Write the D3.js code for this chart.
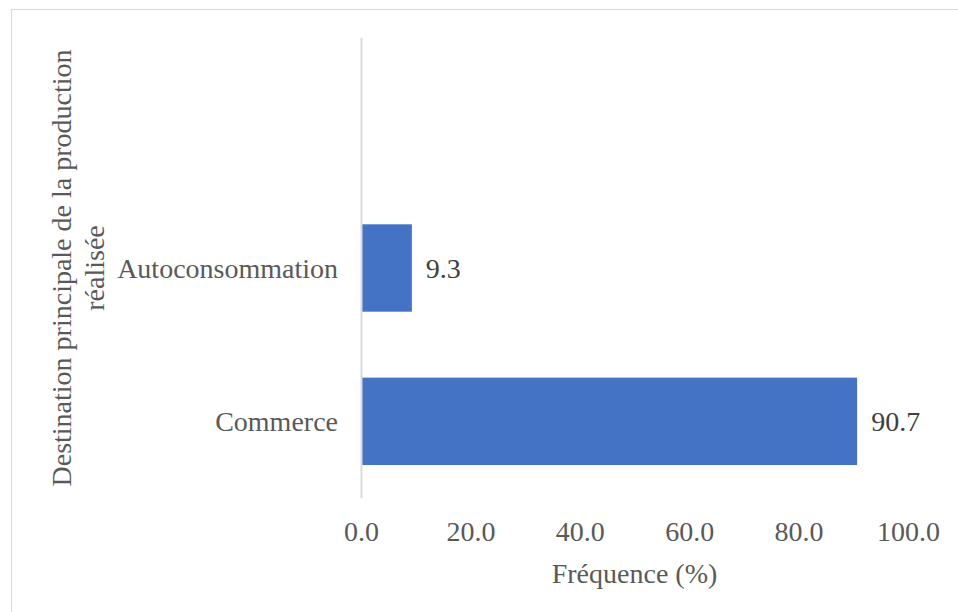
<!DOCTYPE html>
<html>
<head>
<meta charset="utf-8">
<script src="https://cdn.jsdelivr.net/npm/d3@7"></script>
<style>
  body { margin: 0; background: #fff; }
</style>
</head>
<body>
<div id="chart"></div>
<script>
var svgWidth = 958;
var svgHeight = 612;
var serif = "Liberation Serif";
var fontSize = "28px";

// data (top slot of the category axis is empty in the original)
var categories = ["", "Autoconsommation", "Commerce"];
var values = [null, 9.3, 90.7];
var tickValues = [0, 20, 40, 60, 80, 100];

var margin = { top: 38, right: 50, bottom: 114, left: 361 };
var width = 908 - margin.left;
var height = 498 - margin.top;

var svg = d3.select("#chart")
            .append("svg")
            .attr("width", svgWidth)
            .attr("height", svgHeight);

// chart border
svg.append("rect")
   .attr("x", 11.5).attr("y", 9.5)
   .attr("width", 960).attr("height", 620)
   .attr("fill", "none")
   .attr("stroke", "#d9d9d9");

var chart = svg.append("g").attr("transform", `translate(${margin.left}, ${margin.top})`);

var xScale = d3.scaleLinear().domain([0, 100]).range([0, width]);
var yScale = d3.scaleBand().domain(categories).range([0, height]).paddingInner(0.43).paddingOuter(0.215);

var rows = categories.map(function(c, i) { return { cat: c, val: values[i] }; })
                     .filter(function(d) { return d.val != null; });

chart.selectAll(".bar")
     .data(rows)
     .enter().append("rect")
     .attr("class", "bar")
     .attr("x", xScale(0))
     .attr("y", d => yScale(d.cat))
     .attr("width", d => xScale(d.val) - xScale(0))
     .attr("height", yScale.bandwidth())
     .attr("fill", "#4472c4");

chart.selectAll(".val")
     .data(rows)
     .enter().append("text")
     .attr("class", "val")
     .attr("x", d => xScale(d.val) + 14)
     .attr("y", d => yScale(d.cat) + yScale.bandwidth() / 2 + 10)
     .style("font-size", fontSize)
     .style("font-family", serif)
     .style("fill", "#404040")
     .text(d => d.val.toFixed(1));

// category labels
chart.selectAll(".cat")
     .data(rows)
     .enter().append("text")
     .attr("class", "cat")
     .attr("x", -23)
     .attr("y", d => yScale(d.cat) + yScale.bandwidth() / 2 + 10)
     .attr("text-anchor", "end")
     .style("font-size", fontSize)
     .style("font-family", serif)
     .style("fill", "#595959")
     .text(d => d.cat);

// vertical axis line
chart.append("line")
     .attr("x1", xScale(0) + 0.5).attr("x2", xScale(0) + 0.5)
     .attr("y1", 0).attr("y2", height)
     .attr("stroke", "#d9d9d9")
     .attr("stroke-width", 2);

// x axis tick labels
var xAxis = d3.axisBottom(xScale).tickValues(tickValues).tickFormat(d => d.toFixed(1)).tickSize(0).tickPadding(0);
var gx = chart.append("g").attr("transform", `translate(0, ${height + 43})`).call(xAxis);
gx.select(".domain").remove();
gx.selectAll("text")
  .attr("dy", 0)
  .style("font-size", fontSize)
  .style("font-family", serif)
  .style("fill", "#595959");

// axis titles
svg.append("text")
   .attr("x", margin.left + width / 2)
   .attr("y", 583)
   .attr("text-anchor", "middle")
   .style("font-size", fontSize)
   .style("font-family", serif)
   .style("fill", "#595959")
   .text("Fréquence (%)");

var yTitle = svg.append("text")
   .attr("transform", "translate(71, 268) rotate(-90)")
   .attr("text-anchor", "middle")
   .style("font-size", fontSize)
   .style("font-family", serif)
   .style("fill", "#595959");
yTitle.append("tspan").attr("x", 0).attr("y", 0).text("Destination principale de la production");
yTitle.append("tspan").attr("x", 0).attr("y", 33).text("réalisée");
</script>
</body>
</html>
